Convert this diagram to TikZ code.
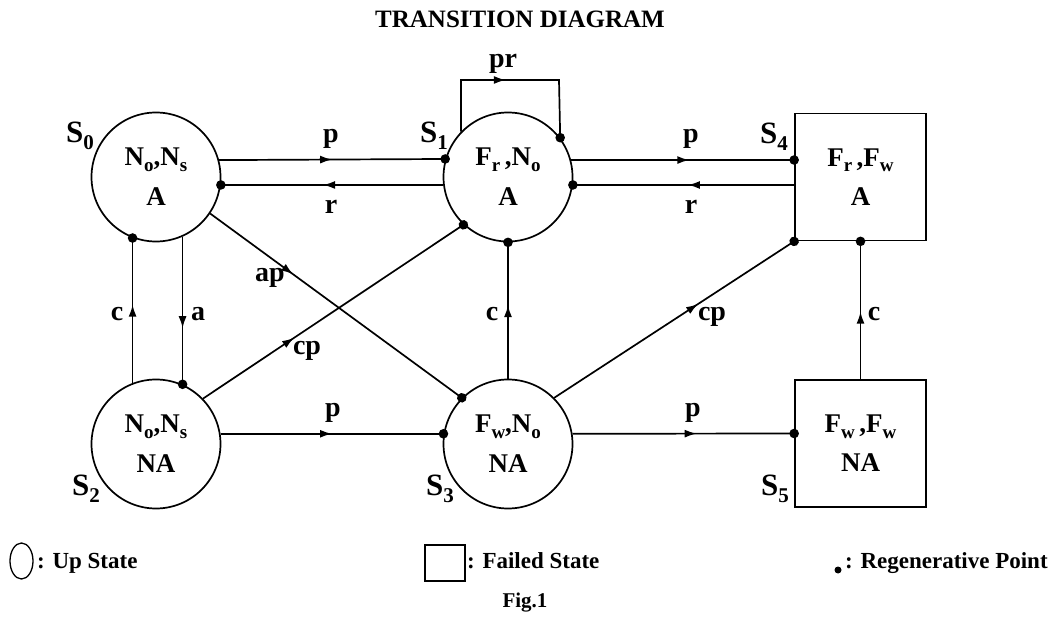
\documentclass[tikz,border=0pt]{standalone}
\usepackage{fontspec}
\setmainfont{Liberation Serif}
\usetikzlibrary{arrows.meta,decorations.markings,shapes.geometric}
\newcommand{\setfs}[2]{\fontsize{#1}{#2}\selectfont}
\newcommand{\lo}[1]{\raisebox{-5.5pt}{\setfs{19}{19}#1}}
\newcommand{\slo}[1]{\raisebox{-7pt}{\setfs{21}{21}#1}}
\begin{document}
\begin{tikzpicture}[x=1pt,y=-1pt,
 st/.style={draw, line width=1.7pt, circle, minimum size=129pt, inner sep=0pt, align=center, font=\setfs{27}{40}\bfseries},
 sq/.style={draw, line width=1.7pt, rectangle, minimum width=131pt, minimum height=127pt, inner sep=0pt, align=center, font=\setfs{27}{39}\bfseries},
 lab/.style={font=\setfs{28}{28}\bfseries, anchor=base, inner sep=0pt},
 slab/.style={font=\setfs{31}{31}\bfseries, anchor=base west, inner sep=0pt},
 leg/.style={font=\setfs{23}{23}\bfseries, anchor=base west, inner sep=0pt},
 tr/.style={line width=1.7pt, postaction={decorate}, decoration={markings,
   mark=at position #1 with {\arrow{Latex[length=12pt,width=8pt]}},
   mark=at position 1 with {\fill circle (4.8pt);}}},
 tr/.default=0.5]
\useasboundingbox (0,0) rectangle (1052,620);
\node[font=\setfs{25}{25}\bfseries, anchor=base] (title) at (520,28) {TRANSITION DIAGRAM};
% states
\node[st] (S0) at (156,177) {N\lo{o},N\lo{s}\\A};
\node[st] (S1) at (508,177) {F\lo{r}\,,N\lo{o}\\A};
\node[sq] (S4) at (860.5,177) {F\lo{r}\,,F\lo{w}\\A};
\node[st] (S2) at (156,444) {N\lo{o},N\lo{s}\\NA};
\node[st] (S3) at (508,444) {F\lo{w},N\lo{o}\\NA};
\node[sq] (S5) at (860.5,443.5) {F\lo{w}\,,F\lo{w}\\NA};
% state labels
\node[slab] (l0) at (66,143) {S\slo{0}};
\node[slab] (l1) at (420,143) {S\slo{1}};
\node[slab] (l4) at (760,144) {S\slo{4}};
\node[slab] (l2) at (72,495) {S\slo{2}};
\node[slab] (l3) at (426,495) {S\slo{3}};
\node[slab] (l5) at (761,495) {S\slo{5}};
% transitions
\draw[tr=0.5] (S0.15.4) -- (S1.164.6);
\draw[tr=0.54] (S1.187.2) -- (S0.-7.2);
\draw[tr=0.53] (S1.15.4) -- ([yshift=17pt]S4.west);
\draw[tr=0.48] ([yshift=-8pt]S4.west) -- (S1.-7.2);
\coordinate (L1) at (462,80);
\coordinate (L2) at (559,80);
\draw[tr=0.465] (S1.136) -- (S1.136 |- L1) -- (L2) -- (S1.37);
\draw[tr=0.54] (S2.111) -- (S0.249);
\draw[tr=0.62] (S0.-66) -- (S2.66);
\draw[tr=0.33] (S0.-34.6) -- (S3.135);
\draw[tr=0.35] (S2.44) -- (S1.227);
\draw[tr=0.54] (S3.north) -- (S1.south);
\draw[tr=0.6] (S3.45) -- (S4.south west);
\draw[tr=0.49] (S5.north) -- (S4.south);
\draw[tr=0.5] (S2.9) -- (S3.171);
\draw[tr=0.56] (S3.9) -- ([yshift=10pt]S5.west);
% edge labels
\node[lab] (lp1) at (331,143) {p};
\node[lab] (lr1) at (331,214) {r};
\node[lab] (lp2) at (691,143) {p};
\node[lab] (lr2) at (691,214) {r};
\node[lab] (lpr) at (503,68) {pr};
\node[lab] (lc1) at (117,320) {c};
\node[lab] (la) at (198,320) {a};
\node[lab] (lap) at (270,282) {ap};
\node[lab] (lcp1) at (307,354) {cp};
\node[lab] (lp3) at (333,416) {p};
\node[lab] (lc2) at (492,320) {c};
\node[lab] (lcp2) at (712,320) {cp};
\node[lab] (lc3) at (874,320) {c};
\node[lab] (lp4) at (693,416) {p};
% legend
\node[draw, ellipse, line width=1.3pt, minimum width=23pt, minimum height=36pt, inner sep=0pt] (legC) at (21.5,561) {};
\node[leg] (legCt) at (37,568) {: Up State};
\node[draw, line width=1.3pt, minimum width=40pt, minimum height=36pt, inner sep=0pt] (legS) at (445,563) {};
\node[leg] (legSt) at (467,568) {: Failed State};
\node[fill, circle, minimum size=7pt, inner sep=0pt] (legD) at (838,570) {};
\node[leg] (legDt) at (845,568) {: Regenerative Point};
\node[font=\setfs{21}{21}\bfseries, anchor=base] (fig) at (525,607) {Fig.1};
\end{tikzpicture}
\end{document}
